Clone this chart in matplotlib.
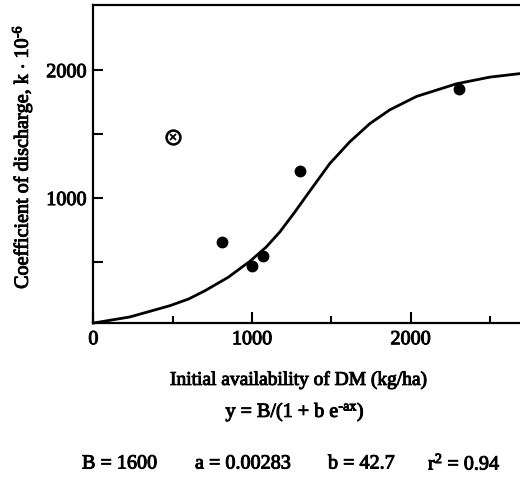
import numpy as np
import matplotlib
matplotlib.use('Agg')
import matplotlib.pyplot as plt
import matplotlib.patheffects as pe

# measured points (kg/ha, k x 10^-6)
obs_x = [809, 998, 1067, 1304, 2306]
obs_y = [659, 470, 548, 1213, 1855]
# excluded point
out_x = [504]
out_y = [1475]
# fitted curve
fit_x = [0, 231, 483, 600, 704, 850, 987, 1090, 1176, 1270, 1365, 1491, 1617, 1743, 1869, 2038, 2290, 2500, 2700]
fit_y = [22, 70, 158, 210, 275, 380, 505, 617, 735, 890, 1055, 1270, 1440, 1582, 1690, 1795, 1894, 1946, 1975]

xticks_major = [0, 1000, 2000]
xticks_minor = [500, 1500, 2500]
yticks = [500, 1000, 1500, 2000]
ylabels = ['', '1000', '', '2000']

plt.rcParams['font.family'] = ['Liberation Serif', 'DejaVu Serif']
plt.rcParams['mathtext.fontset'] = 'custom'
plt.rcParams['mathtext.rm'] = 'Liberation Serif'
plt.rcParams['mathtext.it'] = 'Liberation Serif'

# scanned print look: thicken the glyphs a little
ink = [pe.withStroke(linewidth=0.7, foreground='black')]

fig = plt.figure(figsize=(5.2, 4.83), dpi=100)
ax = fig.add_axes([0.1795, 0.3306, 0.8205, 0.659])

ax.plot(fit_x, fit_y, color='black', lw=2.0, solid_joinstyle='round', clip_on=False)
ax.plot(obs_x, obs_y, 'o', color='black', ms=7.5)
ax.plot(out_x, out_y, 'o', mfc='white', mec='black', mew=1.8, ms=10)
ax.plot(out_x, out_y, 'x', color='black', mew=1.3, ms=4.5)

ax.set_xlim(0, 2690)
ax.set_ylim(20, 2510)

ax.spines['right'].set_visible(False)
for s in ['left', 'bottom', 'top']:
  ax.spines[s].set_linewidth(1.6)

ax.set_xticks(xticks_major)
ax.set_xticks(xticks_minor, minor=True)
ax.set_yticks(yticks)
ax.set_yticklabels(ylabels)
ax.tick_params(axis='x', which='major', direction='in', length=8, width=1.5, labelsize=14.5, pad=5)
ax.tick_params(axis='x', which='minor', direction='in', length=5, width=1.5)
ax.tick_params(axis='y', which='major', direction='in', length=7, width=1.5, labelsize=14.5, pad=5)
for lab in ax.get_xticklabels() + ax.get_yticklabels():
  lab.set_path_effects(ink)

fig.text(22/520, 1-157/483, r'Coefficient of discharge, k $\cdot$ 10$^{\text{-6}}$', rotation=90,
         ha='center', va='center', fontsize=14.5, path_effects=ink)
fig.text(299/520, 1-380/483, 'Initial availability of DM (kg/ha)', ha='center', va='center',
         fontsize=14, path_effects=ink)
fig.text(295/520, 1-412/483, r'y = B/(1 + b e$^{\text{-ax}}$)', ha='center', va='center',
         fontsize=14.5, path_effects=ink)
params = ['B = 1600', 'a = 0.00283', 'b = 42.7', r'r$^{\text{2}}$ = 0.94']
params_x = [82, 195, 328, 428]
for txt, px in zip(params, params_x):
  fig.text(px/520, 1-464/483, txt, ha='left', va='center', fontsize=14.5, path_effects=ink)

plt.savefig('out.png', dpi=100)
